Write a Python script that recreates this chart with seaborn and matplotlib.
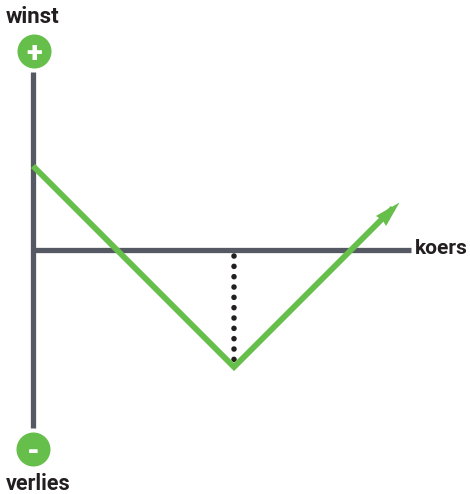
#plot.py
#option payoff diagram, winst / verlies against koers

import matplotlib
matplotlib.use('Agg')
import matplotlib.pyplot as plt
from matplotlib.path import Path
import pandas as pd
import seaborn as sea

GREEN = '#66bf4a'
GREY = '#555963'
BLACK = '#231f20'

#axis ends
axis_x = [0, 378]
axis_y = [178, -178]

#payoff line, the arrow ends at the last point
koers = [0, 201, 360]
winst = [84, -117, 42]
arrow_tip_x = [366]
arrow_tip_y = [48]

#dotted line from the axis to the lowest point
dotted_x = [201, 201]
dotted_y = [-6, -110]

#plus and minus badges
badge_x = [1, 0]
badge_y = [199, -199]
badge_labels = ['+', '-']

sea.set_theme(style='white')
plt.rcParams['font.family'] = ['Roboto', 'DejaVu Sans']

fig = plt.figure(figsize=(4.7, 4.94), dpi=100)
ax = fig.add_axes([0, 0, 1, 1])

#grey axes, estimator=None or seaborn averages the vertical one away
sea.lineplot(x=[0, 0], y=axis_y, color=GREY, lw=3.8, ax=ax, estimator=None, sort=False, solid_capstyle='butt')
sea.lineplot(x=axis_x, y=[0, 0], color=GREY, lw=3.8, ax=ax, estimator=None, sort=False, solid_capstyle='butt')

#dots
sea.lineplot(x=dotted_x, y=dotted_y, color=BLACK, lw=4, ax=ax, estimator=None, sort=False,
             linestyle=(0, (0.01, 1.85)), dash_capstyle='round')

#payoff
df = pd.DataFrame({'koers': koers, 'winst': winst})
sea.lineplot(data=df, x='koers', y='winst', sort=False, estimator=None, color=GREEN, lw=4.2, ax=ax,
             solid_capstyle='butt', solid_joinstyle='miter')

#notched arrow head, tip at the origin of the marker
head = Path([(0, 0), (-21, -12), (-15, -16), (-12, -21), (0, 0)], closed=True)
sea.scatterplot(x=arrow_tip_x, y=arrow_tip_y, marker=head, s=1150, color=GREEN, linewidth=0, ax=ax, zorder=4)

#badges
sea.scatterplot(x=badge_x, y=badge_y, s=600, color=GREEN, linewidth=0, ax=ax, zorder=4)
for bx, by, lab in zip(badge_x, badge_y, badge_labels):
    ax.text(bx, by, lab, color='white', fontsize=21, fontweight='black',
            ha='center', va='center_baseline', zorder=5)

#labels
ax.text(-27, 233, 'winst', color=BLACK, fontsize=16, fontweight='bold', ha='left', va='center')
ax.text(-27, -234, 'verlies', color=BLACK, fontsize=15.5, fontweight='bold', ha='left', va='center')
ax.text(382, 2, 'koers', color=BLACK, fontsize=15, fontweight='bold', ha='left', va='center')

ax.set_xlim(-33, 437)
ax.set_ylim(-244, 250)
ax.axis('off')

plt.savefig('out.png', dpi=100)
